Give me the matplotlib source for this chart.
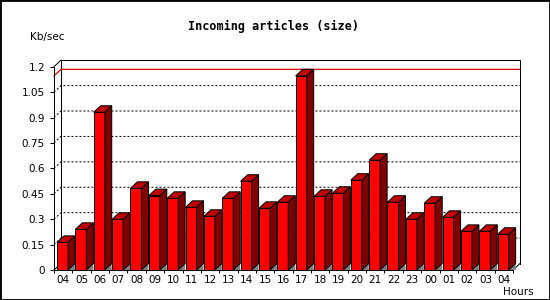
import numpy as np
import matplotlib
matplotlib.use('Agg')
import matplotlib.pyplot as plt
from matplotlib.patches import Polygon, Rectangle

# data
hours = ['04', '05', '06', '07', '08', '09', '10', '11', '12', '13', '14', '15', '16',
         '17', '18', '19', '20', '21', '22', '23', '00', '01', '02', '03', '04']
kb_sec = [0.163, 0.240, 0.931, 0.299, 0.482, 0.439, 0.423, 0.370, 0.317, 0.423, 0.524, 0.364, 0.400,
          1.146, 0.435, 0.453, 0.530, 0.648, 0.400, 0.299, 0.394, 0.311, 0.228, 0.228, 0.211]
y_ticks = [0, 0.15, 0.3, 0.45, 0.6, 0.75, 0.9, 1.05, 1.2]
y_labels = ['0', '0.15', '0.3', '0.45', '0.6', '0.75', '0.9', '1.05', '1.2']

n = len(hours)
ymax = y_ticks[-1]

fig = plt.figure(figsize=(5.5, 3), dpi=100)
ax_w, ax_h = 459, 203.3  # axes size in pixels
ax = fig.add_axes([54 / 550, 30 / 300, ax_w / 550, ax_h / 300])
ax.set_xlim(0, n)
ax.set_ylim(0, ymax)

# 3d depth in pixels, converted to data units
px_x = ax_w / n
px_y = ax_h / ymax
dx = 7 / px_x
dy = 6.5 / px_y
bar_off = 3 / px_x
bar_w = 11 / px_x

lw = 0.72

# back plane
ax.plot([dx, dx, n + dx, n + dx], [dy, ymax + dy, ymax + dy, dy], color='k', lw=lw, clip_on=False)
ax.plot([0, dx], [ymax, ymax + dy], color='k', lw=lw, clip_on=False)
ax.plot([n, n + dx], [0, dy], color='k', lw=lw, clip_on=False)
ax.plot([0, dx], [0, dy], color='k', lw=lw, clip_on=False)

# dotted grid on the back plane
for t in y_ticks[1:-1]:
    ax.plot([0, dx, n + dx], [t, t + dy, t + dy], color='k', lw=lw, ls=(0, (2, 2)), clip_on=False)

# max line
vmax = max(kb_sec)
ax.plot([0, dx, n + dx], [vmax, vmax + dy, vmax + dy], color='#d40000', lw=0.9, clip_on=False, zorder=2)

# bars
xs = np.arange(n) + bar_off
ax.bar(xs, kb_sec, width=bar_w, align='edge', color='#ff0000', edgecolor='k', lw=lw, zorder=4)
for x0, v in zip(xs, kb_sec):
    xr = x0 + bar_w
    ax.add_patch(Polygon([(xr, 0), (xr + dx, dy), (xr + dx, 0)], closed=True,
                         facecolor='#808080', edgecolor='none', zorder=3, clip_on=False))
    ax.add_patch(Polygon([(xr, 0), (xr + dx, dy), (xr + dx, v + dy), (xr, v)], closed=True,
                         facecolor='#800000', edgecolor='k', lw=lw, zorder=4, clip_on=False))
    ax.add_patch(Polygon([(x0, v), (xr, v), (xr + dx, v + dy), (x0 + dx, v + dy)], closed=True,
                         facecolor='#c00000', edgecolor='k', lw=lw, zorder=4, clip_on=False))

# axes, ticks
for s in ['top', 'right']:
    ax.spines[s].set_visible(False)
for s in ['left', 'bottom']:
    ax.spines[s].set_linewidth(lw)
    ax.spines[s].set_zorder(5)

ax.set_yticks(y_ticks)
ax.set_yticklabels(y_labels)
ax.tick_params(axis='y', length=2.9, width=lw, pad=3.6, labelsize=7.5)

ax.set_xticks(np.arange(n + 1))
ax.set_xticklabels([])
ax.set_xticks(np.arange(n) + 0.5, minor=True)
ax.set_xticklabels(hours, minor=True)
ax.tick_params(axis='x', which='major', length=2.2, width=lw)
ax.tick_params(axis='x', which='minor', length=0, pad=3.5, labelsize=7.5)

# texts
fig.text(273 / 550, 1 - 26.7 / 300, 'Incoming articles (size)', ha='center', va='center',
         family='DejaVu Sans Mono', weight='bold', fontsize=8.5)
fig.text(30 / 550, 1 - 36.7 / 300, 'Kb/sec', ha='left', va='center', fontsize=7.5)
fig.text(534 / 550, 1 - 292 / 300, 'Hours', ha='right', va='center', fontsize=7.5)

# outer border
fig.patches.append(Rectangle((0, 0), 1, 1, transform=fig.transFigure, fill=False,
                             edgecolor='k', lw=2, figure=fig))

fig.savefig('out.png', dpi=100)
